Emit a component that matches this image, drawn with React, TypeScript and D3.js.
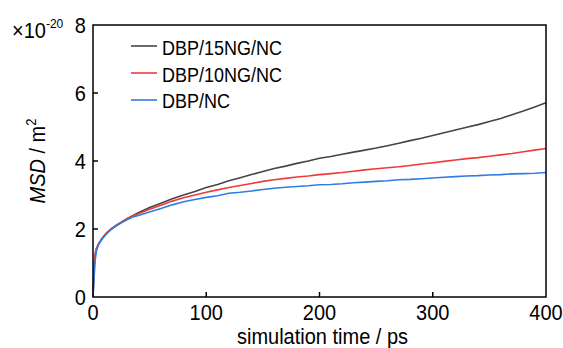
import React from "react";
import * as d3 from "d3";

const times = [0, 1, 2, 3, 5, 8, 12, 16, 20, 25, 30, 35, 40, 50, 60, 70, 80, 90, 100, 110, 120, 130, 140, 150, 160, 170, 180, 190, 200, 210, 220, 230, 240, 250, 260, 270, 280, 290, 300, 310, 320, 330, 340, 350, 360, 370, 380, 390, 400];

const msd15NG = [0, 0.9, 1.25, 1.42, 1.56, 1.72, 1.88, 2.0, 2.1, 2.2, 2.3, 2.39, 2.48, 2.63, 2.76, 2.89, 3.0, 3.1, 3.22, 3.31, 3.42, 3.51, 3.6, 3.69, 3.78, 3.85, 3.93, 4.0, 4.08, 4.13, 4.2, 4.26, 4.32, 4.38, 4.45, 4.52, 4.6, 4.67, 4.75, 4.83, 4.91, 4.99, 5.07, 5.16, 5.25, 5.36, 5.47, 5.59, 5.71];
const msd10NG = [0, 0.95, 1.28, 1.43, 1.57, 1.73, 1.89, 2.0, 2.1, 2.2, 2.3, 2.38, 2.45, 2.58, 2.7, 2.82, 2.92, 3.0, 3.08, 3.15, 3.22, 3.28, 3.34, 3.4, 3.45, 3.49, 3.53, 3.56, 3.6, 3.63, 3.66, 3.7, 3.74, 3.77, 3.8, 3.83, 3.87, 3.91, 3.95, 3.99, 4.03, 4.07, 4.1, 4.14, 4.18, 4.22, 4.27, 4.32, 4.37];
const msdNC = [0, 0.6, 1.1, 1.35, 1.55, 1.7, 1.86, 1.98, 2.08, 2.18, 2.27, 2.35, 2.4, 2.5, 2.6, 2.71, 2.8, 2.87, 2.93, 2.98, 3.05, 3.08, 3.12, 3.16, 3.2, 3.23, 3.25, 3.27, 3.3, 3.31, 3.33, 3.36, 3.38, 3.4, 3.42, 3.45, 3.46, 3.48, 3.5, 3.52, 3.54, 3.56, 3.57, 3.59, 3.6, 3.62, 3.63, 3.64, 3.66];

const seriesNames = ["DBP/15NG/NC", "DBP/10NG/NC", "DBP/NC"];
const seriesColors = ["#454545", "#f03a3a", "#2e7ee0"];
const xTicks = [0, 100, 200, 300, 400];
const yTicks = [0, 2, 4, 6, 8];

const SY = 1.12;

export default function App() {
  const W = 563, H = 348;
  const left = 93, right = 546, top = 25, bottom = 297;
  const x = d3.scaleLinear().domain([0, 400]).range([left, right]);
  const y = d3.scaleLinear().domain([0, 8]).range([bottom, top]);
  const allSeries = [msd15NG, msd10NG, msdNC];
  const line = d3.line<number>().x((_, i) => x(times[i])).y((d) => y(d));
  const font = "Liberation Sans, Arial, sans-serif";
  const tr = (tx: number, ty: number) => `translate(${tx},${ty}) scale(1,${SY})`;
  return (
    <svg width={W} height={H} style={{ position: "absolute", left: 0, top: 0, background: "#fff" }} fontFamily={font}>
      {[0, 1, 2].map((k) => (
        <path key={k} d={line(allSeries[k]) || ""} fill="none" stroke={seriesColors[k]} strokeWidth={1.6} strokeLinejoin="round" />
      ))}
      <rect x={left} y={top} width={right - left} height={bottom - top} fill="none" stroke="#000" strokeWidth={1.5} />
      {yTicks.map((t) => (
        <g key={"y" + t}>
          {t !== 0 && t !== 8 && <line x1={left} x2={left + 5} y1={y(t)} y2={y(t)} stroke="#000" strokeWidth={1.5} />}
          <text transform={tr(86, y(t) + 8)} fontSize={20} textAnchor="end">{t}</text>
        </g>
      ))}
      {xTicks.map((t) => (
        <g key={"x" + t}>
          {t !== 0 && t !== 400 && <line x1={x(t)} x2={x(t)} y1={bottom} y2={bottom - 5} stroke="#000" strokeWidth={1.5} />}
          <text transform={tr(x(t), 320)} fontSize={20} textAnchor="middle">{t}</text>
        </g>
      ))}
      <text transform={tr((left + right) / 2 + 3, 344)} fontSize={20} textAnchor="middle">simulation time / ps</text>
      <text transform={`translate(45,${(top + bottom) / 2}) rotate(-90) scale(1,${SY})`} fontSize={20} textAnchor="middle">
        <tspan fontStyle="italic">MSD</tspan> / m<tspan dy={-8} fontSize={13}>2</tspan>
      </text>
      <text transform={tr(12, 38)} fontSize={20}>×10<tspan dy={-9} fontSize={12}>-20</tspan></text>
      {seriesNames.map((n, i) => (
        <g key={n}>
          <line x1={131} x2={157} y1={46 + i * 27} y2={46 + i * 27} stroke={seriesColors[i]} strokeWidth={1.6} />
          <text transform={tr(162, 55 + i * 26.5)} fontSize={18}>{n}</text>
        </g>
      ))}
    </svg>
  );
}
